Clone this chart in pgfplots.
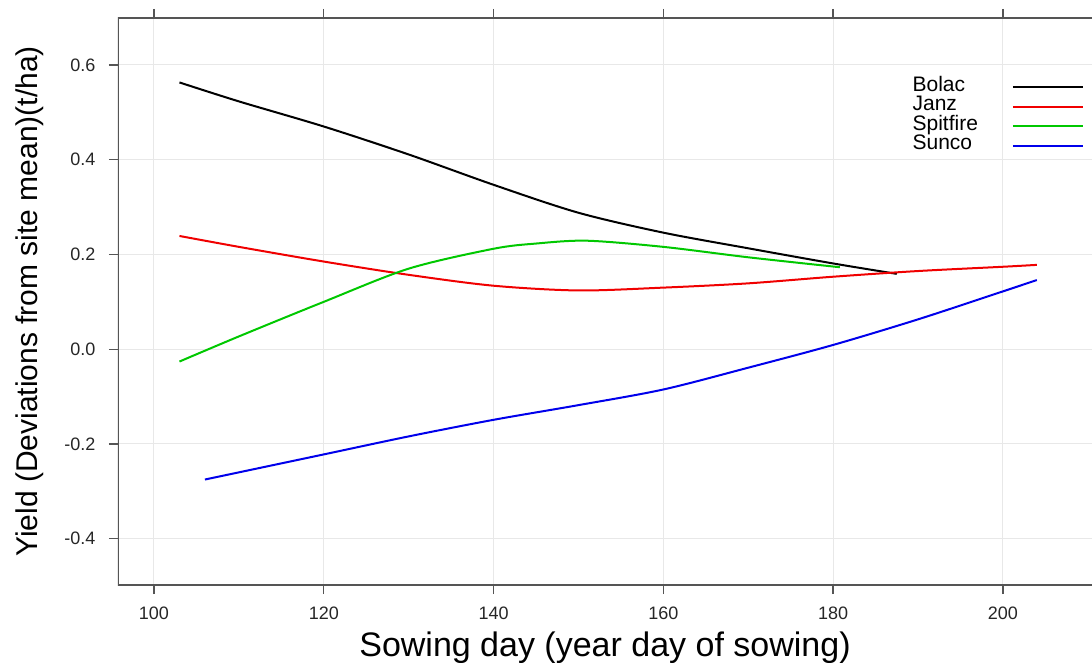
\documentclass[border=0pt]{standalone}
\usepackage{pgfplots}
\pgfplotsset{compat=1.18}
\usepackage{fontspec}
\setmainfont{Liberation Sans}
\usetikzlibrary{calc}
\definecolor{axgray}{RGB}{85,85,85}
\definecolor{gridgray}{RGB}{232,232,232}
\definecolor{lgreen}{RGB}{0,200,0}
\definecolor{lblue}{RGB}{0,0,235}
\definecolor{lred}{RGB}{240,0,0}
\begin{document}
\begin{tikzpicture}
\begin{axis}[
  name=ax,
  scale only axis,
  width=974pt, height=567pt,
  xmin=95.76, xmax=210.5,
  ymin=-0.4976, ymax=0.699,
  xtick={100,120,140,160,180,200},
  xticklabels={100,120,140,160,180,200},
  ytick={-0.4,-0.2,0,0.2,0.4,0.6},
  yticklabels={-0.4,-0.2,0.0,0.2,0.4,0.6},
  xtick pos=both, ytick pos=left,
  tick align=outside,
  major tick length=9pt,
  tick style={axgray, line width=1.3pt},
  axis line style={draw=none},
  grid=major,
  major grid style={gridgray, line width=1pt},
  ticklabel style={font=\fontsize{18}{20}\selectfont, text=black!85},
  xticklabel style={yshift=-9pt},
  yticklabel style={xshift=-10pt},
  xlabel={Sowing day (year day of sowing)},
  ylabel={Yield (Deviations from site mean)(t/ha)},
  xlabel style={font=\fontsize{34}{36}\selectfont, at={(rel axis cs:0.5,0)}, anchor=base, yshift=-71pt},
  ylabel style={font=\fontsize{30}{32}\selectfont, at={(rel axis cs:0,0.5)}, anchor=center, yshift=88pt},
  legend plot pos=right,
  legend cell align=left,
  legend style={draw=none, fill=none, at={(rel axis cs:0.995,0.899)}, anchor=north east,
    font=\fontsize{21}{21}\selectfont,
    nodes={inner sep=0pt, text height=14pt, text depth=5.5pt},
    column sep=34pt, row sep=0pt},
  legend image code/.code={\draw[#1, line width=2pt] (0pt,0pt) -- (70pt,0pt);},
  every axis plot/.append style={line width=2pt, smooth, tension=0.5},
]
\addplot[black] coordinates {(103,0.563) (110,0.523) (120,0.470) (130,0.411) (140,0.347) (150,0.288) (160,0.246) (170,0.213) (180,0.181) (187.5,0.159)};
\addlegendentry{Bolac}
\addplot[lred] coordinates {(103,0.239) (110,0.216) (120,0.185) (130,0.157) (140,0.134) (150,0.124) (160,0.130) (170,0.139) (180,0.153) (190,0.165) (200,0.174) (204,0.178)};
\addlegendentry{Janz}
\addplot[lgreen] coordinates {(103,-0.026) (110,0.027) (120,0.100) (130,0.170) (140,0.212) (145,0.223) (151,0.229) (160,0.216) (170,0.194) (180.8,0.173)};
\addlegendentry{Spitfire}
\addplot[lblue] coordinates {(106,-0.275) (120,-0.222) (130,-0.184) (140,-0.149) (150,-0.118) (160,-0.085) (170,-0.039) (180,0.009) (190,0.063) (200,0.122) (204,0.146)};
\addlegendentry{Sunco}
\draw[axgray, line width=1.5pt] (rel axis cs:1,0) -- (rel axis cs:0,0) -- (rel axis cs:0,1) -- (rel axis cs:1,1);
\end{axis}
\pgfresetboundingbox
\useasboundingbox ($(ax.south west)+(-118pt,-77pt)$) rectangle ($(ax.north east)+(0pt,18pt)$);
\end{tikzpicture}
\end{document}
